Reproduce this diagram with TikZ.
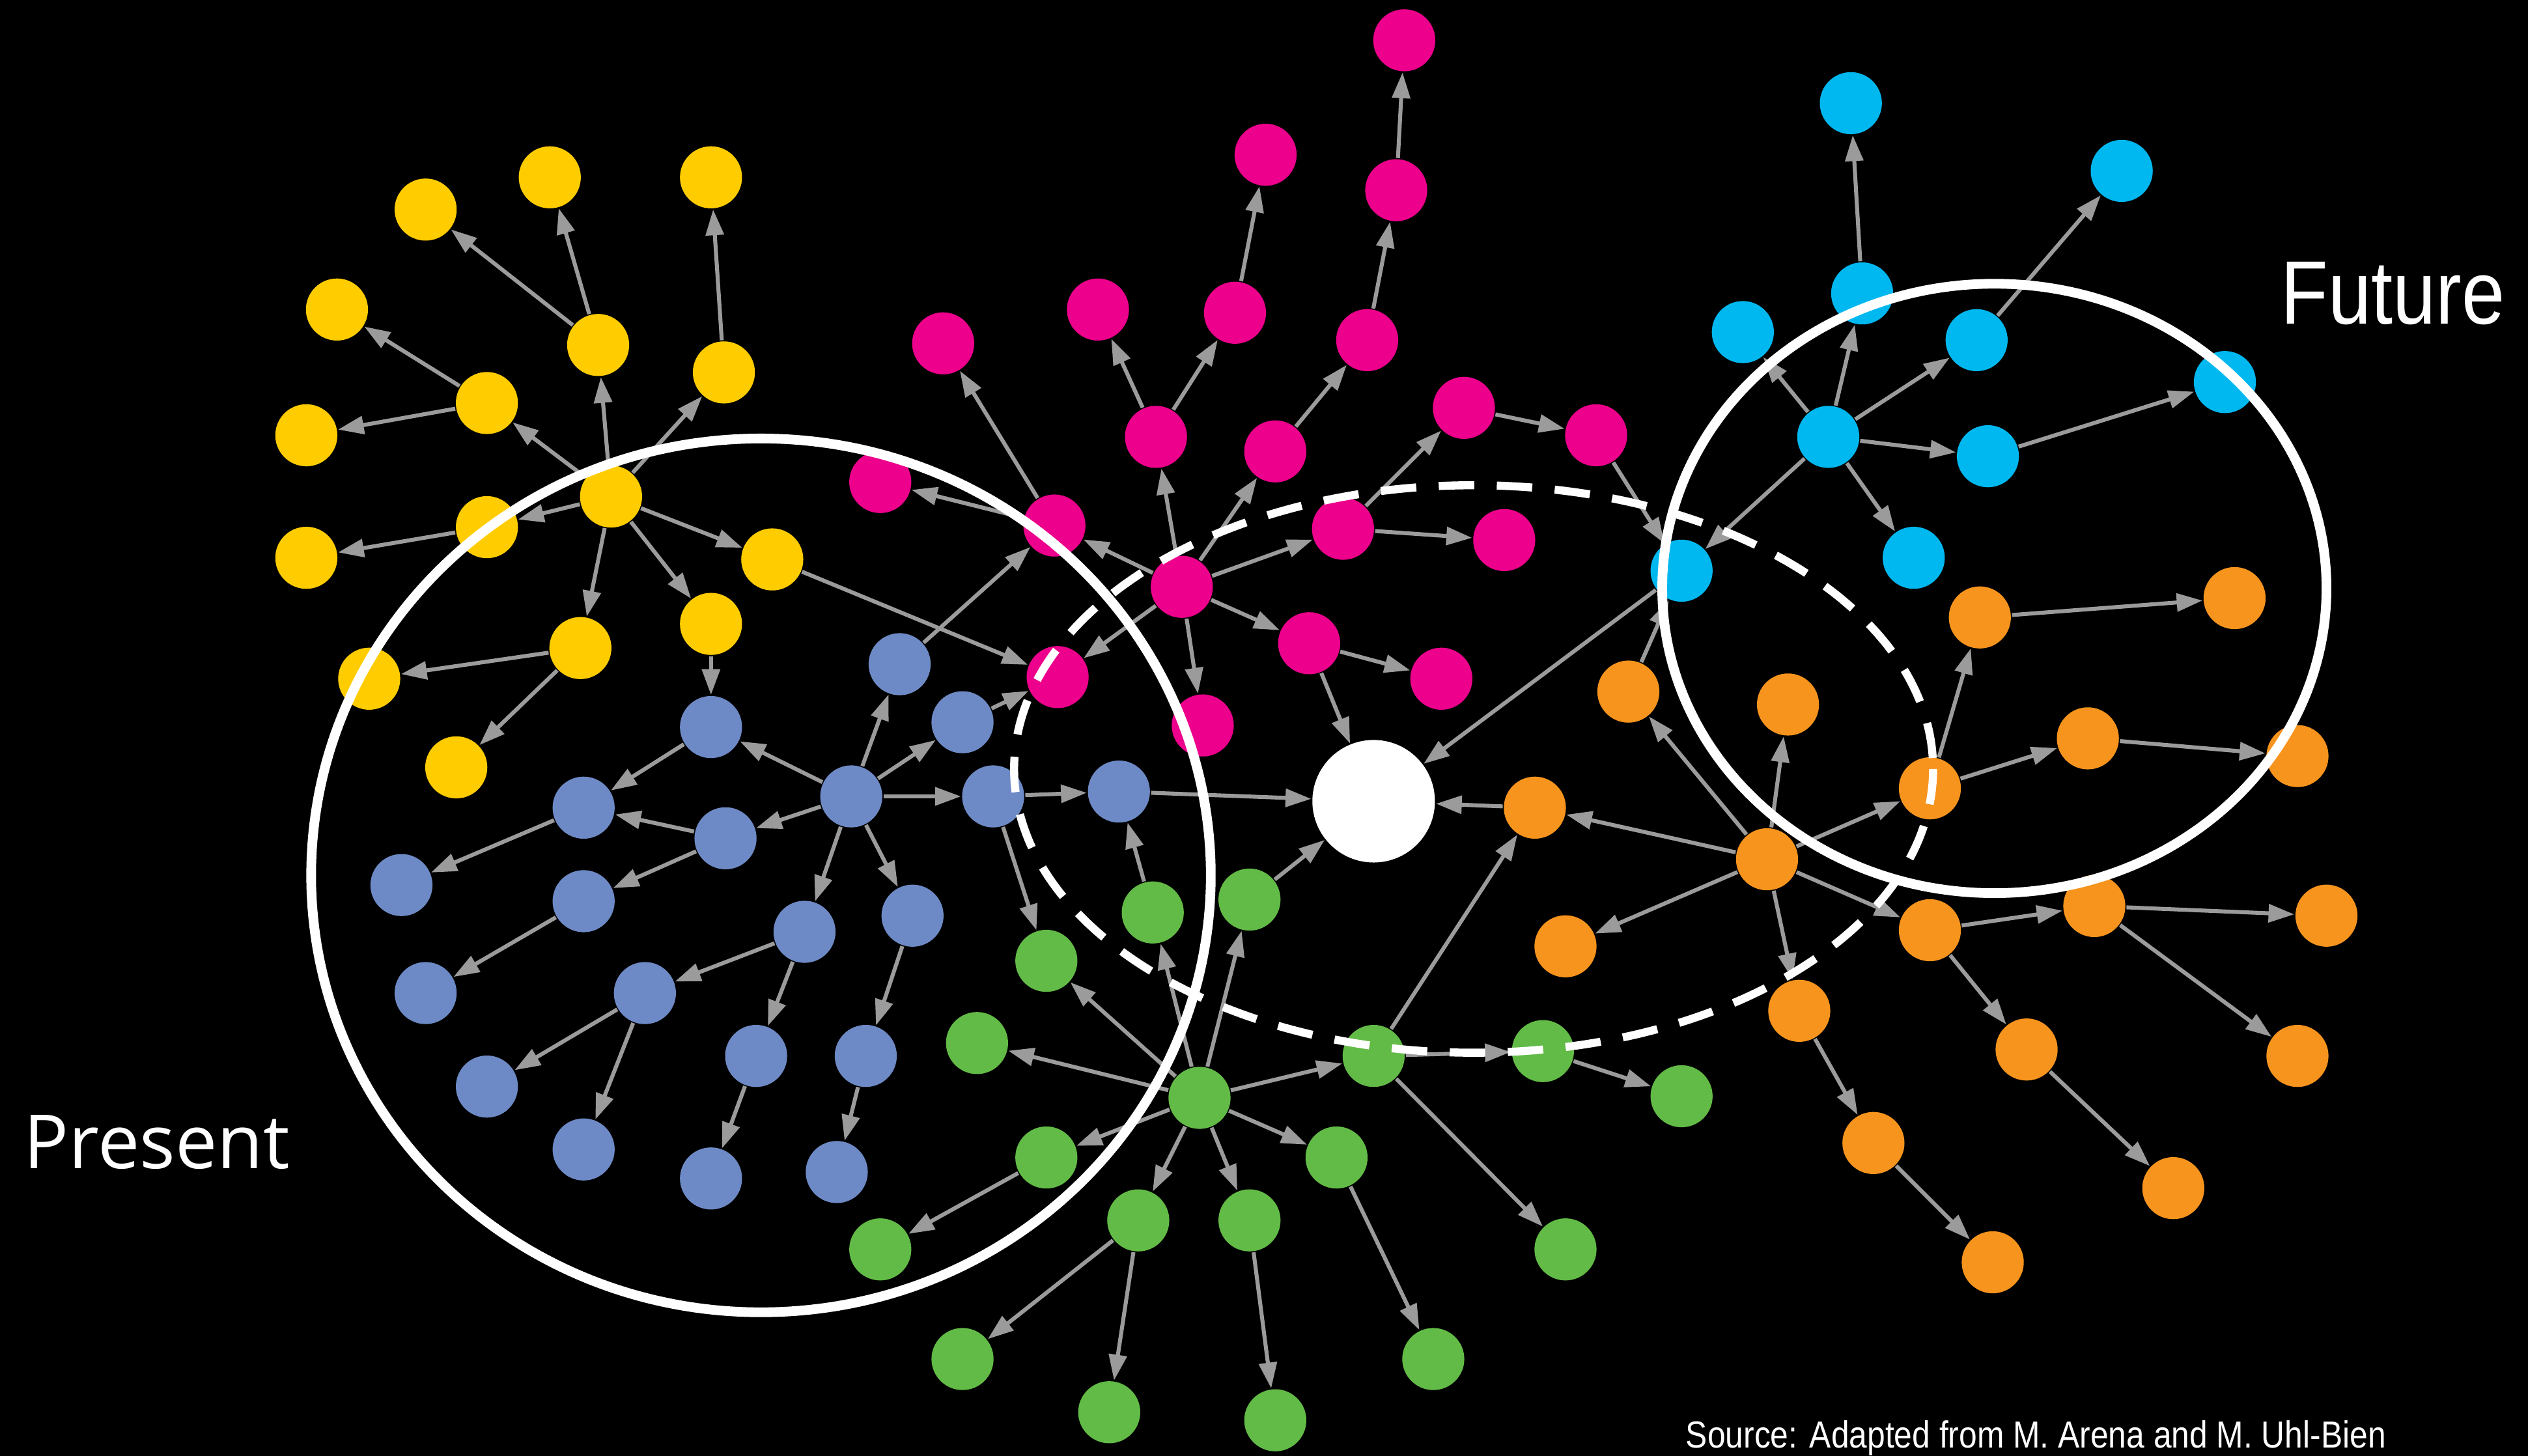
\documentclass[tikz,border=0pt]{standalone}
\usepackage{fontspec}
\setmainfont{Liberation Sans}
\newfontfamily\narrowfont[FakeStretch=0.86]{Liberation Sans}
\newfontfamily\openfont{Open Sans}
\usetikzlibrary{arrows.meta}

\definecolor{ynode}{RGB}{255,204,0}
\definecolor{mnode}{RGB}{236,0,140}
\definecolor{bnode}{RGB}{110,138,198}
\definecolor{gnode}{RGB}{98,187,70}
\definecolor{onode}{RGB}{247,148,29}
\definecolor{cnode}{RGB}{0,184,240}
\definecolor{linkgray}{RGB}{155,155,155}

\tikzset{
  person/.style={circle, inner sep=0pt, minimum size=3.85mm},
  link/.style={draw=linkgray, line width=0.7pt, -{Triangle[length=1.6mm,width=1.1mm]}},
  ring/.style={draw=white, line width=0.6mm},
}

\begin{document}
\begin{tikzpicture}[x=0.1mm,y=-0.1mm]
  \fill[black] (0,0) rectangle (1568,903);
  \useasboundingbox (0,0) rectangle (1568,903);

  % the hub everything points at
  \node[circle, fill=white, inner sep=0pt, minimum size=7.6mm] (hub) at (852,497) {};

  \foreach \n/\px/\py in {y1/341/110, y2/441/110, y3/264/130, y4/209/192, y5/371/214,
      y6/449/231, y7/302/250, y8/190/270, y9/302/327, y10/379/308, y11/190/346,
      y12/479/347, y13/441/387, y14/360/402, y15/229/421, y16/283/476}
    \node[person, fill=ynode] (\n) at (\px,\py) {};

  \foreach \n/\px/\py in {m1/871/25, m2/785/96, m3/866/118, m4/585/213, m5/681/192,
      m6/766/194, m7/848/211, m8/717/271, m9/791/280, m10/908/253, m11/990/270,
      m12/546/299, m13/654/326, m14/833/328, m15/933/335, m16/733/364,
      m17/812/399, m18/894/421, m19/656/420, m20/746/450}
    \node[person, fill=mnode] (\n) at (\px,\py) {};

  \foreach \n/\px/\py in {b1/441/451, b2/558/412, b3/597/448, b4/362/501, b5/450/520,
      b6/528/494, b7/616/494, b8/694/491, b9/249/549, b10/362/559, b11/499/578,
      b12/566/568, b13/264/616, b14/400/616, b15/469/655, b16/537/655,
      b17/302/674, b18/362/713, b19/441/731, b20/519/727}
    \node[person, fill=bnode] (\n) at (\px,\py) {};

  \foreach \n/\px/\py in {g1/715/566, g2/775/558, g3/649/596, g4/606/647, g5/744/681,
      g6/852/655, g7/957/652, g8/1043/680, g9/649/718, g10/829/718, g11/546/775,
      g12/706/757, g13/775/757, g14/971/775, g15/597/843, g16/688/876,
      g17/791/881, g18/889/843}
    \node[person, fill=gnode] (\n) at (\px,\py) {};

  \foreach \n/\px/\py in {o1/952/501, o2/1010/429, o3/1109/437, o4/1228/383,
      o5/1386/371, o6/1197/489, o7/1295/458, o8/1425/469, o9/1096/533,
      o10/971/587, o11/1197/577, o12/1299/562, o13/1443/568, o14/1116/627,
      o15/1257/651, o16/1425/655, o17/1162/709, o18/1348/737, o19/1236/783}
    \node[person, fill=onode] (\n) at (\px,\py) {};

  \foreach \n/\px/\py in {c1/1148/64, c2/1316/106, c3/1081/206, c4/1155/182,
      c5/1226/211, c6/1134/271, c7/1233/283, c8/1380/237, c9/1043/354, c10/1187/346}
    \node[person, fill=cnode] (\n) at (\px,\py) {};

  % who passes it on to whom
  \foreach \a/\b in {y5/y3, y5/y1, y6/y2, y7/y4, y7/y8, y10/y7, y10/y5, y10/y6,
      y10/y9, y9/y11, y10/y12, y10/y13, y10/y14, y14/y15, y14/y16, y13/b1, y12/m19,
      m3/m1, m7/m3, m6/m2, m8/m5, m8/m6, m9/m7, m16/m8, m16/m9, m14/m10, m10/m11,
      m11/c9, m14/m15, m16/m14, m16/m13, m13/m12, m13/m4, m16/m19, m16/m17,
      m16/m20, m17/m18, m17/hub,
      b6/b1, b1/b4, b4/b9, b6/b5, b5/b4, b5/b10, b10/b13, b6/b2, b2/m13, b6/b3,
      b3/m19, b6/b7, b7/b8, b8/hub, b6/b11, b6/b12, b11/b14, b14/b17, b14/b18,
      b11/b15, b15/b19, b12/b16, b16/b20, b7/g3,
      g1/b8, g2/hub, g5/g1, g5/g2, g5/g3, g5/g4, g5/g6, g5/g9, g5/g10, g5/g12,
      g5/g13, g9/g11, g12/g15, g12/g16, g13/g17, g10/g18, g6/g7, g6/g14, g6/o1,
      g7/g8,
      o1/hub, o9/o1, o9/o2, o2/c9, o9/o3, o9/o6, o6/o4, o4/o5, o6/o7, o7/o8,
      o9/o10, o9/o11, o11/o12, o12/o13, o12/o16, o11/o15, o15/o18, o9/o14,
      o14/o17, o17/o19,
      c4/c1, c5/c2, c6/c3, c6/c4, c6/c5, c6/c7, c7/c8, c6/c10, c6/c9, c9/hub}
    \draw[link] (\a) -- (\b);

  % present, future and the overlap between them
  \draw[ring] (472,543) ellipse [x radius=279, y radius=271];
  \draw[ring] (1237,365) ellipse [x radius=206, y radius=189];
  \draw[ring, line width=0.5mm, dash pattern=on 2.2mm off 1.4mm] (914,477) ellipse [x radius=285, y radius=176];

  \node[anchor=base west, inner sep=0pt, text=white, font=\openfont\fontsize{13.2}{16}\selectfont] (present) at (14,725) {Present};
  \node[anchor=base west, inner sep=0pt, text=white, font=\narrowfont\fontsize{15.9}{19}\selectfont] (future) at (1414,201) {Future};
  \node[anchor=base west, inner sep=0pt, text=white, font=\narrowfont\fontsize{6.65}{8}\selectfont] (source) at (1045,898) {Source: Adapted from M. Arena and M. Uhl-Bien};
\end{tikzpicture}
\end{document}
